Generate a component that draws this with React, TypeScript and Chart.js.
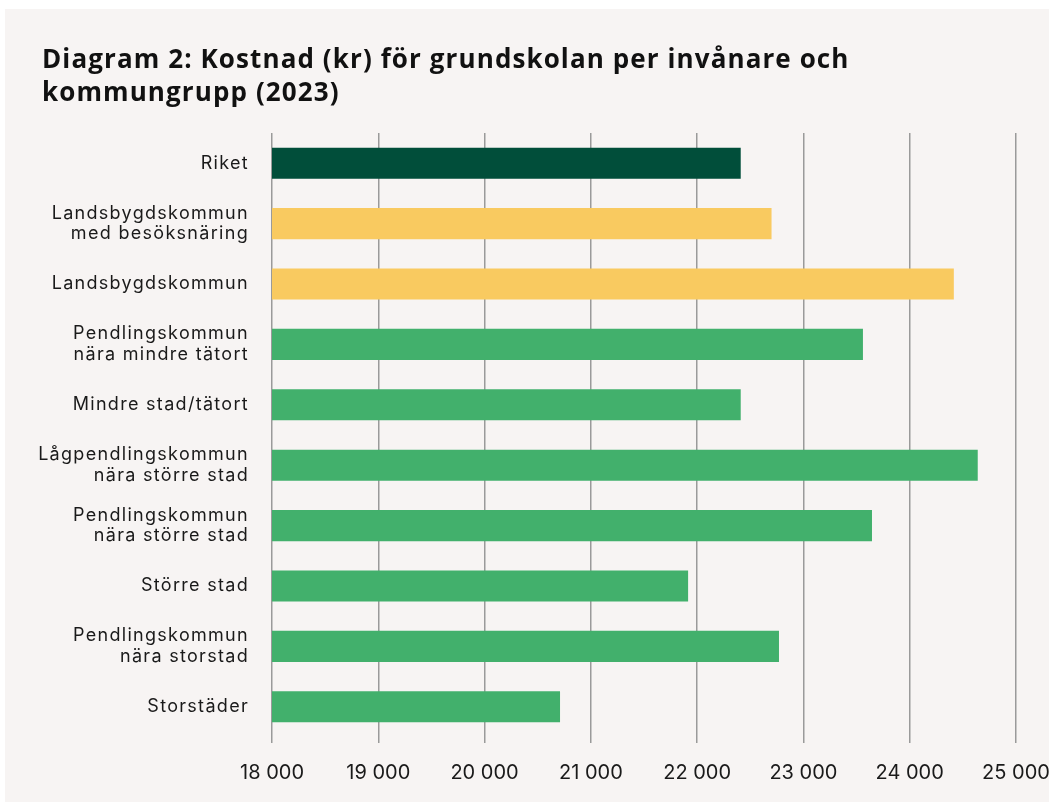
import { useEffect, useRef } from "react";
import { Chart, registerables } from "chart.js";

Chart.register(...registerables);

const titleLines = [
  "Diagram 2: Kostnad (kr) för grundskolan per invånare och",
  "kommungrupp (2023)",
];

const categories: string[][] = [
  ["Riket"],
  ["Landsbygdskommun", "med besöksnäring"],
  ["Landsbygdskommun"],
  ["Pendlingskommun", "nära mindre tätort"],
  ["Mindre stad/tätort"],
  ["Lågpendlingskommun", "nära större stad"],
  ["Pendlingskommun", "nära större stad"],
  ["Större stad"],
  ["Pendlingskommun", "nära storstad"],
  ["Storstäder"],
];

const costValues = [22410, 22700, 24415, 23560, 22410, 24640, 23645, 21915, 22770, 20710];

const barColors = [
  "#014e3a",
  "#f9ca60",
  "#f9ca60",
  "#42b06c",
  "#42b06c",
  "#42b06c",
  "#42b06c",
  "#42b06c",
  "#42b06c",
  "#42b06c",
];

const xMin = 18000;
const xMax = 25000;
const xStep = 1000;

const formatTick = (v: number) => {
  const s = String(Math.round(v));
  return s.replace(/\B(?=(\d{3})+(?!\d))/g, " ");
};

const letterSpacingPlugin = {
  id: "yLetterSpacing",
  beforeDraw(chart: any) {
    const y = chart.scales.y;
    if (y && !y.__patched) {
      const orig = y.drawLabels.bind(y);
      y.drawLabels = function (area: any) {
        const ctx = chart.ctx;
        ctx.save();
        (ctx as any).letterSpacing = "1.3px";
        orig(area);
        ctx.restore();
      };
      y.__patched = true;
    }
  },
};

export default function App() {
  const ref = useRef<HTMLCanvasElement | null>(null);

  useEffect(() => {
    if (!ref.current) return;
    const chart = new Chart(ref.current, {
      type: "bar",
      data: {
        labels: categories,
        datasets: [
          {
            data: costValues,
            backgroundColor: barColors,
            borderWidth: 0,
            barPercentage: 0.515,
            categoryPercentage: 1,
          },
        ],
      },
      plugins: [letterSpacingPlugin],
      options: {
        indexAxis: "y",
        responsive: false,
        animation: false,
        devicePixelRatio: 1,
        layout: { padding: { left: 0, right: 0, top: 124, bottom: 0 } },
        plugins: {
          legend: { display: false },
          tooltip: { enabled: false },
          title: { display: false },
        },
        scales: {
          x: {
            type: "linear",
            min: xMin,
            max: xMax,
            ticks: {
              stepSize: xStep,
              color: "#1a1a1a",
              padding: 18,
              font: { family: "Inter", size: 20 },
              callback: (v: any) => formatTick(Number(v)),
            },
            grid: {
              color: "#9a9a9a",
              lineWidth: 1.5,
              tickLength: 6,
              drawTicks: true,
            },
            border: { display: false },
            afterFit: (scale: any) => {
              scale.height = 65;
              scale.paddingRight = 33;
            },
          },
          y: {
            ticks: {
              color: "#1a1a1a",
              padding: 23,
              font: { family: "Inter", size: 18, lineHeight: 1.15 },
            },
            grid: { display: false, drawTicks: false },
            border: { display: false },
            afterFit: (scale: any) => {
              scale.width = 267;
            },
          },
        },
      },
    });
    return () => chart.destroy();
  }, []);

  return (
    <div
      style={{
        position: "absolute",
        left: 0,
        top: 0,
        width: 1049,
        height: 803,
        background: "#ffffff",
      }}
    >
      <div
        style={{
          position: "absolute",
          left: 5,
          top: 9,
          width: 1044,
          height: 793,
          background: "#f7f4f3",
        }}
      >
        <canvas ref={ref} width={1044} height={793} style={{ display: "block" }} />
        <div
          style={{
            position: "absolute",
            left: 37,
            top: 33,
            fontFamily: "'Open Sans', sans-serif",
            fontWeight: 700,
            fontSize: 26,
            letterSpacing: "1.1px",
            lineHeight: "33px",
            color: "#111111",
            whiteSpace: "nowrap",
          }}
        >
          {titleLines.map((t) => (
            <div key={t}>{t}</div>
          ))}
        </div>
      </div>
    </div>
  );
}
